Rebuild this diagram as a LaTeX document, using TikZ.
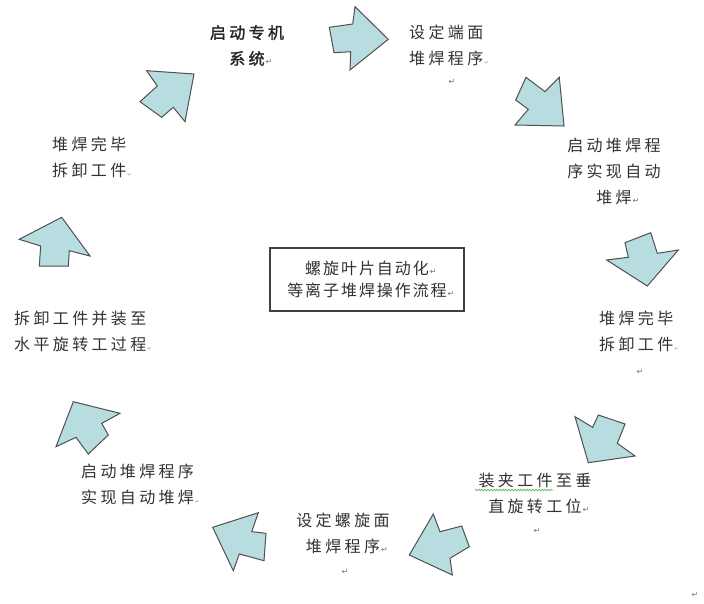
\documentclass[tikz,border=0pt]{standalone}
\usepackage{fontspec}
\usetikzlibrary{decorations.pathmorphing}
\newfontfamily\cjksp{Noto Sans CJK SC}[LetterSpace=21]
\newfontfamily\cjkbx{Noto Sans CJK SC}[LetterSpace=12]
\newfontfamily\cjkbd{Noto Sans CJK SC}[LetterSpace=21,FakeBold=1.6]
\newfontfamily\markfont{DejaVu Sans}
\definecolor{arrowfill}{RGB}{183,221,224}
\definecolor{arrowline}{RGB}{80,80,80}
\definecolor{txt}{RGB}{50,50,50}
\definecolor{wavy}{RGB}{110,190,110}
\newcommand{\pmark}{\rlap{\hspace{1pt}\markfont\fontsize{8}{8}\selectfont\textcolor{black!55}{↵}}}
\newcommand{\smark}{\rlap{\hspace{1pt}\markfont\fontsize{5}{5}\selectfont\textcolor{black!45}{↵}}}
\begin{document}
\begin{tikzpicture}[x=1pt,y=-1pt,
  bigarrow/.style={fill=arrowfill,draw=arrowline,line width=1pt,line join=miter},
  label/.style={inner sep=0pt,text=txt,font=\cjksp\fontsize{16}{26}\selectfont},
  labelbold/.style={inner sep=0pt,text=black!85,font=\cjkbd\fontsize{16}{26}\selectfont},
  pm/.style={inner sep=0pt,text=black!55,font=\markfont\fontsize{8}{8}\selectfont},
  titlebox/.style={draw=black!75,line width=1.2pt,inner sep=0pt,minimum width=194pt,minimum height=63pt,text=txt,align=center,font=\cjkbx\fontsize{16}{22}\selectfont}]
\useasboundingbox (0,0) rectangle (704,603);
\fill[white] (0,0) rectangle (704,603);

% arrows
\draw[bigarrow] (329.3,27.3) -- (352.7,24) -- (355,6.7) -- (388.3,39.3) -- (350,70) -- (350.7,51.7) -- (334,52.7) -- cycle;
\draw[bigarrow] (526,77.3) -- (545,91.7) -- (559.3,77.3) -- (564,126) -- (515,125) -- (528.3,109.3) -- (515.7,100) -- cycle;
\draw[bigarrow] (625,242.7) -- (650.7,232.7) -- (657.3,253.3) -- (678.3,250) -- (647.3,286) -- (606.7,260) -- (628.3,257.3) -- cycle;
\draw[bigarrow] (575,416.7) -- (592.7,427.3) -- (598.3,415) -- (625,424) -- (617.3,443.3) -- (635,456) -- (588.3,462.7) -- cycle;
\draw[bigarrow] (433.3,514) -- (440,531.7) -- (461.7,526) -- (469.3,546.7) -- (450,558.3) -- (452.3,575) -- (409.3,555) -- cycle;
\draw[bigarrow] (212.7,527.3) -- (258.3,512.7) -- (251.7,531.7) -- (266,533.3) -- (264,560.7) -- (239.3,554) -- (233.3,570.7) -- cycle;
\draw[bigarrow] (73.3,401.7) -- (120,413.3) -- (101.7,423.3) -- (108.3,435) -- (88.3,454) -- (76,437.3) -- (56,446.7) -- cycle;
\draw[bigarrow] (19.3,239.3) -- (61.7,217.3) -- (90,256) -- (69.3,250.7) -- (68.3,266) -- (39.3,266) -- (40.7,246) -- cycle;
\draw[bigarrow] (146.7,70.7) -- (194,74) -- (185,121.7) -- (173.3,107.3) -- (161.7,117.3) -- (140,101.7) -- (157.3,86) -- cycle;

% centre box
\node[titlebox] (title) at (367,279.5) {螺旋叶片自动化\pmark\\等离子堆焊操作流程\pmark};

% step labels
\node[labelbold,align=center] (s1) at (247,45.5) {启动专机\\系统\pmark};
\node[label,align=left,anchor=west] (s2) at (409,45) {设定端面\\堆焊程序\smark};
\node[pm] (m2) at (452,82) {↵};
\node[label,align=center] (s3) at (614,171) {启动堆焊程\\序实现自动\\堆焊\pmark};
\node[label,align=left,anchor=west] (s4) at (599,331) {堆焊完毕\\拆卸工件\smark};
\node[pm] (m4) at (640,372) {↵};
\node[label,align=center] (s5) at (535,493) {装夹工件至垂\\直旋转工位\pmark};
\node[pm] (m5) at (537,531) {↵};
\node[label,align=center] (s6) at (343,533) {设定螺旋面\\堆焊程序\pmark};
\node[pm] (m6) at (345,572) {↵};
\node[label,align=left,anchor=west] (s7) at (81,484) {启动堆焊程序\\实现自动堆焊\smark};
\node[label,align=left,anchor=west] (s8) at (14,331) {拆卸工件并装至\\水平旋转工过程\smark};
\node[label,align=left,anchor=west] (s9) at (52,157.5) {堆焊完毕\\拆卸工件\smark};
\node[pm] (m10) at (695,595) {↵};

% spell-check underline
\draw[wavy,line width=0.8pt,decorate,decoration={snake,amplitude=0.8pt,segment length=3pt}] (475,490) -- (553,490);
\end{tikzpicture}
\end{document}
